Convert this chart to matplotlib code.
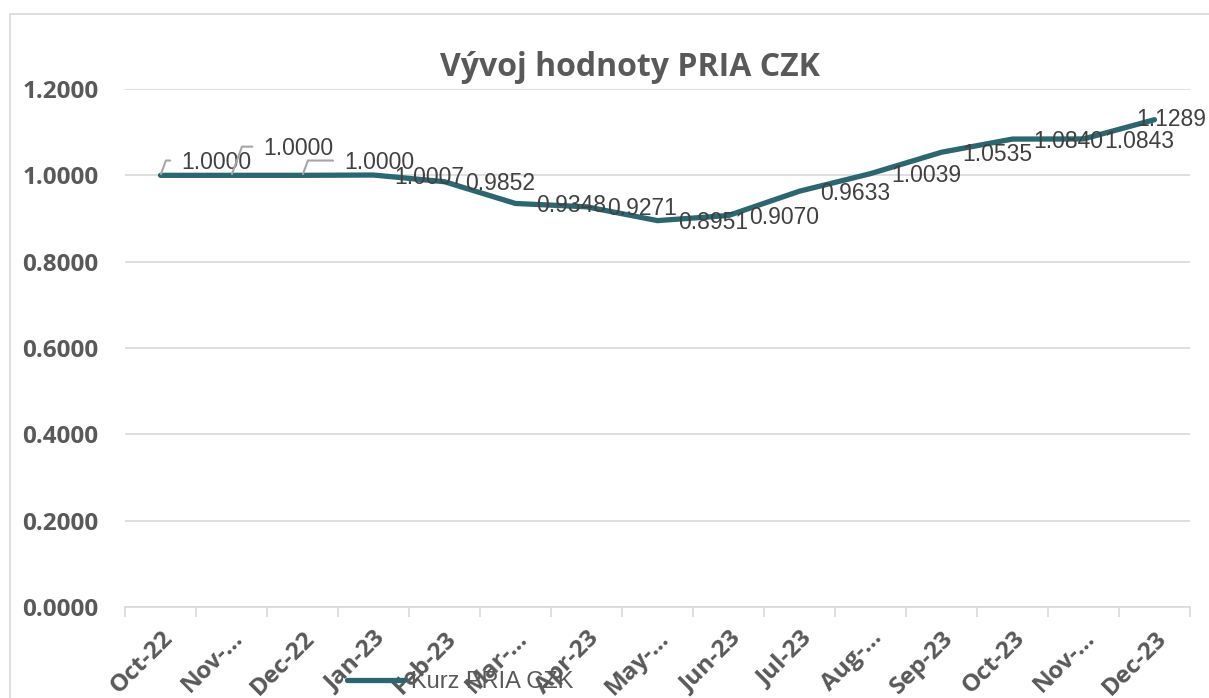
import matplotlib.pyplot as plt
from matplotlib.patches import Rectangle
from matplotlib.lines import Line2D
from matplotlib.transforms import ScaledTranslation

# data
months = ["Oct-22", "Nov-…", "Dec-22", "Jan-23", "Feb-23", "Mar-…", "Apr-23", "May-…",
          "Jun-23", "Jul-23", "Aug-…", "Sep-23", "Oct-23", "Nov-…", "Dec-23"]
kurz = [1.0000, 1.0000, 1.0000, 1.0007, 0.9852, 0.9348, 0.9271, 0.8951,
        0.9070, 0.9633, 1.0039, 1.0535, 1.0840, 1.0843, 1.1289]
y_ticks = [0.0, 0.2, 0.4, 0.6, 0.8, 1.0, 1.2]

line_color = "#2b6770"
grid_color = "#d9d9d9"
text_color = "#595959"
label_font = dict(fontsize=16.5, fontfamily="Liberation Sans", color="#404040")

fig = plt.figure(figsize=(12.09, 6.98), dpi=100)
fig.patches.append(Rectangle((10 / 1209, -0.01), 1.0, 1 - 14 / 698 + 0.01,
                             transform=fig.transFigure, fill=False,
                             edgecolor=grid_color, lw=1.2))

ax = fig.add_axes([125 / 1209, 1 - 607 / 698, 1065 / 1209, 518 / 698])
x = list(range(len(months)))
ax.plot(x, kurz, color=line_color, lw=3.8, solid_capstyle="round",
        solid_joinstyle="round", zorder=3)

ax.set_xlim(-0.5, len(months) - 0.5)
ax.set_ylim(0, 1.2)
ax.set_yticks(y_ticks)
ax.set_yticklabels([f"{v:.4f}" for v in y_ticks], fontfamily="Open Sans",
                   fontweight="bold", fontsize=17.5, color=text_color)
ax.tick_params(axis="y", length=0, pad=19)
ax.grid(axis="y", color=grid_color, lw=1.2)
ax.set_axisbelow(True)

ax.set_xticks(x)
ax.set_xticklabels(months, rotation=45, ha="right", va="top", rotation_mode="anchor",
                   fontfamily="Open Sans", fontweight="bold", fontsize=17.5, color=text_color)
shift = ScaledTranslation(6 / 100, 0, fig.dpi_scale_trans)
for lab in ax.get_xticklabels():
    lab.set_transform(lab.get_transform() + shift)
ax.tick_params(axis="x", which="major", length=0, pad=14)
ax.set_xticks([i - 0.5 for i in range(len(months) + 1)], minor=True)
ax.tick_params(axis="x", which="minor", length=7, color=grid_color, width=1.2)
for s in ["top", "right", "left"]:
    ax.spines[s].set_visible(False)
ax.spines["bottom"].set_color(grid_color)
ax.spines["bottom"].set_linewidth(1.2)

# data labels
leader = {0: (15, 9), 1: (23, 19), 2: (30, 9)}
last = len(kurz) - 1
for i, v in enumerate(kurz):
    if i in leader:
        dx, dy = leader[i]
        ax.annotate(f"{v:.4f}", (i, v), xytext=(dx, dy), textcoords="offset points",
                    ha="left", va="center", zorder=4, **label_font,
                    arrowprops=dict(arrowstyle="-", color="#a6a6a6", lw=1.5,
                                    connectionstyle="angle,angleA=0,angleB=70,rad=0",
                                    relpos=(0, 0.6), shrinkA=6, shrinkB=1))
    elif i == last:
        ax.annotate(f"{v:.4f}", (i, v), xytext=(37, 0), textcoords="offset points",
                    ha="right", va="center", zorder=4, annotation_clip=False, **label_font)
    else:
        ax.annotate(f"{v:.4f}", (i, v), xytext=(15, -1.5), textcoords="offset points",
                    ha="left", va="center", zorder=4, annotation_clip=False, **label_font)

fig.text(630 / 1209, 1 - 67 / 698, "Vývoj hodnoty PRIA CZK", ha="center", va="center",
         fontfamily="Open Sans", fontweight="bold", fontsize=23, color=text_color)

handle = Line2D([], [], color=line_color, lw=3.8, solid_capstyle="round")
fig.legend([handle], ["Kurz PRIA CZK"], loc="center", bbox_to_anchor=(460 / 1209, 1 - 682 / 698),
           frameon=False, handlelength=2.4, handletextpad=0.3,
           prop={"family": "Liberation Sans", "size": 17}, labelcolor=text_color)

fig.savefig("out.png", dpi=100)
